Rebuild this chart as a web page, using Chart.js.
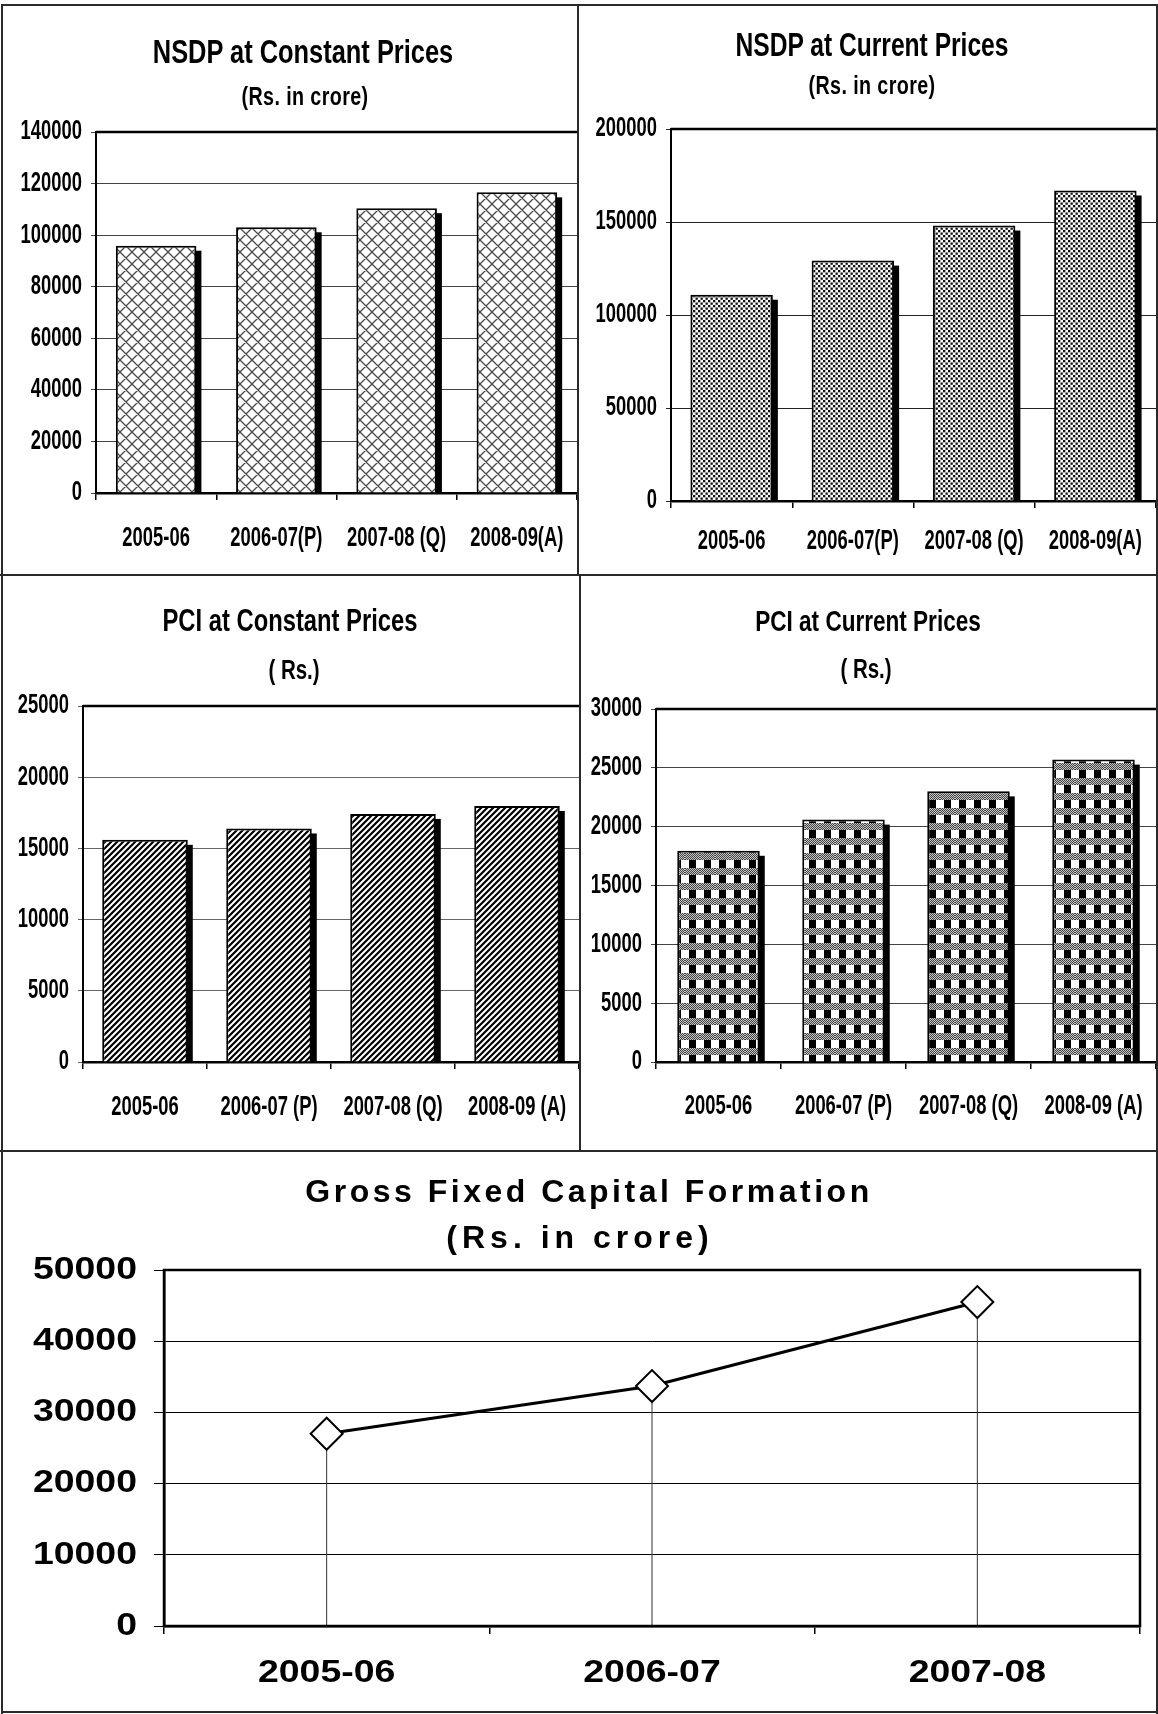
<!DOCTYPE html>
<html><head><meta charset="utf-8">
<script src="https://cdn.jsdelivr.net/npm/chart.js@4.4.1/dist/chart.umd.min.js"></script>
<style>
html,body{margin:0;padding:0;background:#fff;}
#page{position:relative;width:1158px;height:1714px;overflow:hidden;background:#fff;}
canvas{position:absolute;}
.t{position:absolute;transform:translate(-50%,-50%) scale(0.82,1.08);white-space:nowrap;font-family:'Liberation Sans',Arial,sans-serif;font-weight:bold;color:#000;line-height:1;}
.w{transform:translate(-50%,-50%);}
.ln{position:absolute;background:#2a2a2a;}
</style></head><body><div id="page">
<canvas id="c1" width="578" height="575" style="left:0;top:0"></canvas>
<canvas id="c2" width="580" height="575" style="left:578px;top:0"></canvas>
<canvas id="c3" width="580" height="576" style="left:0;top:575px"></canvas>
<canvas id="c4" width="578" height="576" style="left:580px;top:575px"></canvas>
<canvas id="c5" width="1158" height="563" style="left:0;top:1151px"></canvas>

<div class="t" style="left:303px;top:52px;font-size:31px">NSDP at Constant Prices</div>
<div class="t" style="left:305px;top:96px;font-size:24px;letter-spacing:0.5px">(Rs. in crore)</div>
<div class="t" style="left:872px;top:45px;font-size:30px">NSDP at Current Prices</div>
<div class="t" style="left:872px;top:85px;font-size:24px;letter-spacing:0.5px">(Rs. in crore)</div>
<div class="t" style="left:290px;top:621px;font-size:29px">PCI at Constant Prices</div>
<div class="t" style="left:294px;top:670px;font-size:25px">( Rs.)</div>
<div class="t" style="left:868px;top:621px;font-size:27.5px">PCI at Current Prices</div>
<div class="t" style="left:866px;top:669px;font-size:25px">( Rs.)</div>
<div class="t w" style="left:589px;top:1191px;font-size:32px;letter-spacing:3.5px">Gross Fixed Capital Formation</div>
<div class="t w" style="left:580px;top:1237px;font-size:32px;letter-spacing:5px">(Rs. in crore)</div>

<div class="ln" style="left:1px;top:4px;width:1157px;height:2px"></div>
<div class="ln" style="left:1px;top:4px;width:2px;height:1710px"></div>
<div class="ln" style="left:1156px;top:4px;width:2px;height:1710px"></div>
<div class="ln" style="left:1px;top:1711px;width:1157px;height:2px"></div>
<div class="ln" style="left:0;top:574px;width:1158px;height:2px"></div>
<div class="ln" style="left:0;top:1150px;width:1158px;height:2px"></div>
<div class="ln" style="left:577px;top:4px;width:2px;height:571px"></div>
<div class="ln" style="left:579px;top:575px;width:2px;height:576px"></div>
</div>
<script>
// ---- data ----
const nsdpCategories = ['2005-06', '2006-07(P)', '2007-08 (Q)', '2008-09(A)'];
const pciCategories = ['2005-06', '2006-07 (P)', '2007-08 (Q)', '2008-09 (A)'];
const gfcfCategories = ['2005-06', '2006-07', '2007-08'];
const nsdpConstant = [95900, 103050, 110450, 116600];
const nsdpCurrent = [110900, 129250, 148100, 166950];
const pciConstant = [15600, 16400, 17420, 17980];
const pciCurrent = [17950, 20600, 23000, 25700];
const gfcfValues = [27000, 33700, 45500];

// ---- fill patterns ----
function makePattern(w, h, draw) {
  const c = document.createElement('canvas');
  c.width = w; c.height = h;
  const g = c.getContext('2d');
  g.fillStyle = '#fff'; g.fillRect(0, 0, w, h);
  draw(g, w, h);
  return g.createPattern(c, 'repeat');
}
const crossHatch = makePattern(12, 12, g => {
  g.strokeStyle = '#4a4a4a'; g.lineWidth = 1.3; g.beginPath();
  for (const c of [-12, 0, 12]) { g.moveTo(-2, -2 + c); g.lineTo(14, 14 + c); }
  for (const c of [0, 12, 24]) { g.moveTo(-2, 2 + c); g.lineTo(14, -14 + c); }
  g.stroke();
});
const checker = makePattern(5, 5, g => {
  g.fillStyle = '#111'; g.fillRect(0, 0, 2.3, 2.3); g.fillRect(2.5, 2.5, 2.3, 2.3);
});
const stripes = makePattern(6, 6, g => {
  g.strokeStyle = '#000'; g.lineWidth = 2.2; g.beginPath();
  for (const c of [0, 6, 12]) { g.moveTo(-2, c + 2); g.lineTo(8, c - 8); }
  g.stroke();
});
const plaid = makePattern(15, 15, g => {
  g.fillStyle = '#000'; g.fillRect(4, 0, 7, 8);
  for (let y = 8; y < 15; y++) for (let x = 0; x < 15; x++) {
    g.fillStyle = ((x + y) % 2 === 0) ? '#444' : '#c4c4c4';
    g.fillRect(x, y, 1, 1);
  }
});

const FN = "'Liberation Sans',Arial,sans-serif";

// draws the library's own tick label items with a horizontal/vertical stretch (narrow-font look)
const stretchedTicks = {
  id: 'stretchedTicks',
  beforeDraw(chart, args, opts) {
    const sx = opts.sx || 1, sy = opts.sy || 1;
    Object.values(chart.scales).forEach(scale => {
      scale.drawLabels = function (chartArea) {
        if (!this.options.ticks.display) return;
        const ctx = this.ctx;
        const items = this.getLabelItems(chartArea);
        for (const item of items) {
          const o = item.options;
          ctx.save();
          ctx.translate(o.translation[0], o.translation[1]);
          if (o.rotation) ctx.rotate(o.rotation);
          ctx.scale(sx, sy);
          ctx.font = item.font.string;
          ctx.fillStyle = o.color;
          ctx.textAlign = o.textAlign;
          ctx.textBaseline = o.textBaseline;
          ctx.fillText(String(item.label), 0, item.textOffset / sy);
          ctx.restore();
        }
      };
    });
  }
};

const barShadow = {
  id: 'barShadow',
  beforeDatasetsDraw(chart) {
    const ctx = chart.ctx; const off = 5;
    const meta = chart.getDatasetMeta(0);
    ctx.save(); ctx.fillStyle = '#000';
    meta.data.forEach(b => {
      const p = b.getProps(['x', 'y', 'base', 'width'], true);
      ctx.fillRect(p.x - p.width / 2 + off, p.y + off, p.width, p.base - p.y - off);
    });
    ctx.restore();
  }
};
const topLine = {
  id: 'topLine',
  beforeDatasetsDraw(chart) {
    const a = chart.chartArea, ctx = chart.ctx;
    ctx.save(); ctx.strokeStyle = '#000'; ctx.lineWidth = 2.5;
    ctx.beginPath(); ctx.moveTo(a.left, a.top); ctx.lineTo(a.right, a.top); ctx.stroke();
    ctx.restore();
  }
};

function barChart(id, cats, vals, o) {
  new Chart(document.getElementById(id), {
    type: 'bar',
    data: { labels: cats, datasets: [{ data: vals, backgroundColor: o.pattern, borderColor: '#000', borderWidth: 2,
      borderSkipped: 'bottom', barPercentage: o.bar, categoryPercentage: 1 }] },
    options: {
      responsive: false, animation: false, events: [],
      layout: { padding: { left: 0, top: o.top, right: o.right, bottom: 0 } },
      plugins: { legend: { display: false }, tooltip: { enabled: false }, stretchedTicks: { sx: 0.8, sy: 1.17 } },
      scales: {
        x: {
          z: 1, offset: true,
          grid: { offset: true, drawOnChartArea: false, drawTicks: true, tickLength: 7, color: '#000', lineWidth: 1.5 },
          border: { display: true, color: '#000', width: 2.5 },
          ticks: { autoSkip: false, maxRotation: 0, minRotation: 0, color: '#000', padding: 3,
            font: { family: FN, size: 23, weight: 'bold', lineHeight: o.lh + 'px' } },
          afterFit: s => { s.height = o.xh; s.paddingLeft = 0; s.paddingRight = 0; }
        },
        y: {
          min: 0, max: o.max,
          ticks: { stepSize: o.step, color: '#000', padding: 9, callback: v => String(v),
            font: { family: FN, size: 23, weight: 'bold' } },
          grid: { color: o.grid, lineWidth: 1, tickLength: 5, drawTicks: true },
          border: { display: true, color: '#000', width: 2 },
          afterFit: s => { s.width = o.yw; }
        }
      }
    },
    plugins: [stretchedTicks, barShadow, topLine]
  });
}

barChart('c1', nsdpCategories, nsdpConstant, { pattern: crossHatch, bar: 0.67, top: 132, right: 1, yw: 96, xh: 82, lh: 72, max: 140000, step: 20000, grid: '#444' });
barChart('c2', nsdpCategories, nsdpCurrent, { pattern: checker, bar: 0.68, top: 129, right: 2, yw: 93, xh: 74, lh: 62, max: 200000, step: 50000, grid: '#222' });
barChart('c3', pciCategories, pciConstant, { pattern: stripes, bar: 0.69, top: 131, right: 1, yw: 83, xh: 89, lh: 72, max: 25000, step: 5000, grid: '#666' });
barChart('c4', pciCategories, pciCurrent, { pattern: plaid, bar: 0.66, top: 134, right: 2, yw: 76, xh: 89, lh: 70, max: 30000, step: 5000, grid: '#444' });

const dropLines = {
  id: 'dropLines',
  beforeDatasetsDraw(chart) {
    const ctx = chart.ctx, a = chart.chartArea;
    ctx.save(); ctx.strokeStyle = '#333'; ctx.lineWidth = 1;
    chart.getDatasetMeta(0).data.forEach(p => {
      ctx.beginPath(); ctx.moveTo(p.x, p.y); ctx.lineTo(p.x, a.bottom); ctx.stroke();
    });
    ctx.restore();
  }
};
const boxFrame = {
  id: 'boxFrame',
  beforeDatasetsDraw(chart) {
    const a = chart.chartArea, ctx = chart.ctx;
    ctx.save(); ctx.strokeStyle = '#000'; ctx.lineWidth = 2.5;
    ctx.strokeRect(a.left, a.top, a.right - a.left, a.bottom - a.top);
    ctx.restore();
  }
};

new Chart(document.getElementById('c5'), {
  type: 'line',
  data: { labels: gfcfCategories, datasets: [{ data: gfcfValues, borderColor: '#000', borderWidth: 3, tension: 0,
    pointStyle: 'rectRot', pointRadius: 16, pointBackgroundColor: '#fff', pointBorderColor: '#000', pointBorderWidth: 2, clip: false }] },
  options: {
    responsive: false, animation: false, events: [],
    layout: { padding: { left: 0, top: 119, right: 12, bottom: 0 } },
    plugins: { legend: { display: false }, tooltip: { enabled: false }, stretchedTicks: { sx: 1.17, sy: 1 } },
    scales: {
      x: {
        offset: true,
        grid: { offset: true, drawOnChartArea: false, drawTicks: true, tickLength: 8, color: '#000', lineWidth: 1.5 },
        border: { display: true, color: '#000', width: 2.5 },
        ticks: { autoSkip: false, maxRotation: 0, minRotation: 0, color: '#000', padding: 3,
          font: { family: FN, size: 32, weight: 'bold', lineHeight: '72px' } },
        afterFit: s => { s.height = 88; s.paddingLeft = 0; s.paddingRight = 0; }
      },
      y: {
        min: 0, max: 50000,
        ticks: { stepSize: 10000, color: '#000', padding: 17, callback: v => String(v),
          font: { family: FN, size: 32, weight: 'bold' } },
        grid: { color: '#000', lineWidth: 1, tickLength: 10, drawTicks: true },
        border: { display: true, color: '#000', width: 2.5 },
        afterFit: s => { s.width = 164; }
      }
    }
  },
  plugins: [stretchedTicks, dropLines, boxFrame]
});
</script>
</body></html>
